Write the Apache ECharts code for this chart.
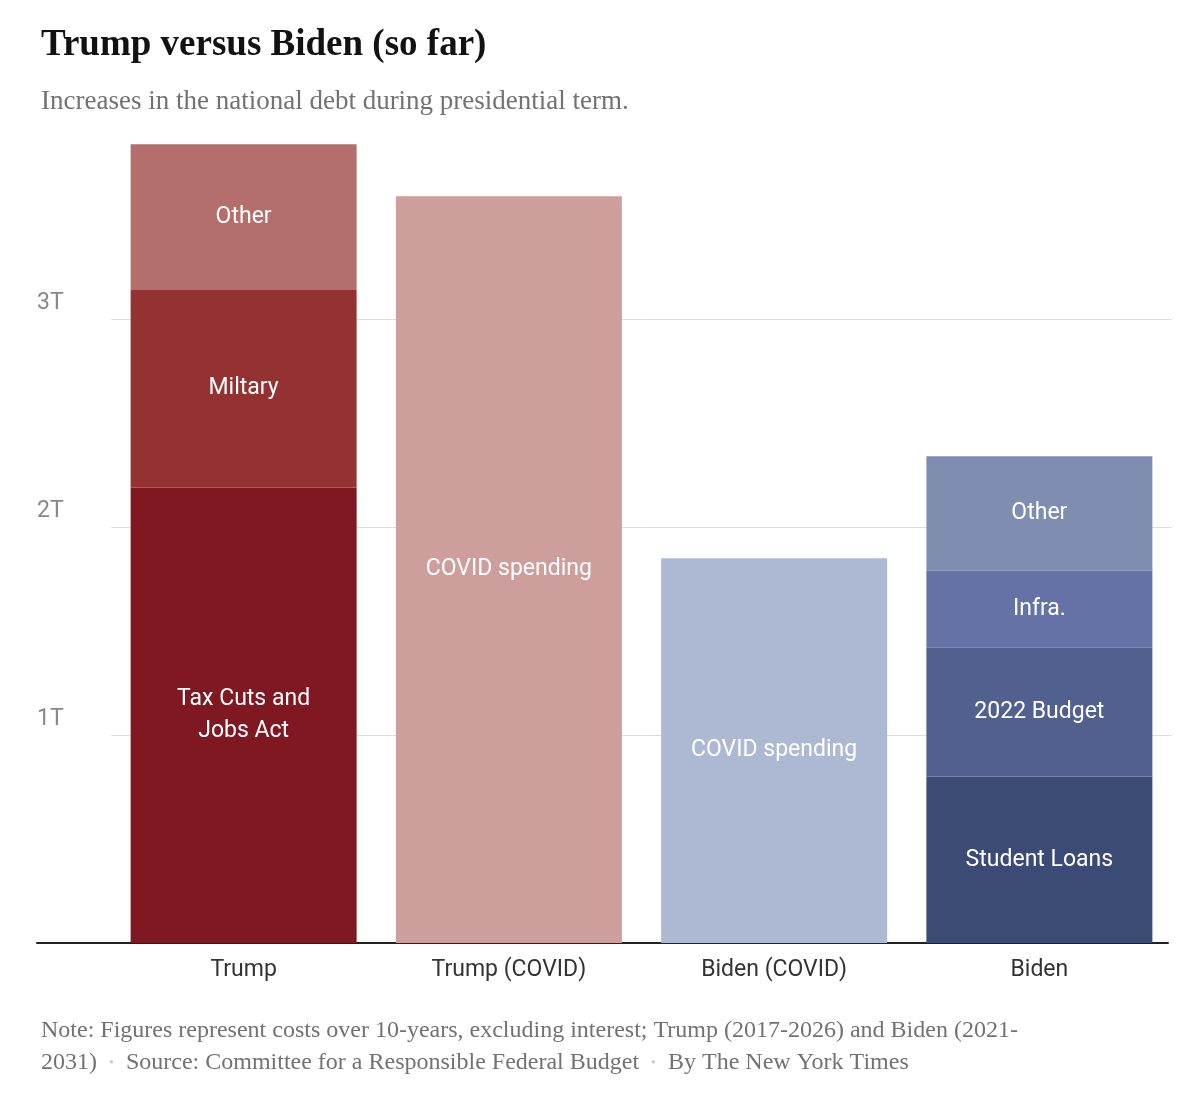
<!DOCTYPE html>
<html><head><meta charset="utf-8">
<script src="https://cdn.jsdelivr.net/npm/echarts@6/dist/echarts.min.js"></script>
<style>html,body{margin:0;padding:0;background:#fff}#c{width:1200px;height:1093px}</style>
</head><body><div id="c"></div>
<script>
const categories = ['Trump', 'Trump (COVID)', 'Biden (COVID)', 'Biden'];
const taxCuts = [2.19, '-', '-', '-'];
const military = [0.95, '-', '-', '-'];
const trumpOther = [0.70, '-', '-', '-'];
const trumpCovid = ['-', 3.59, '-', '-'];
const bidenCovid = ['-', '-', 1.85, '-'];
const studentLoans = ['-', '-', '-', 0.80];
const budget2022 = ['-', '-', '-', 0.62];
const infra = ['-', '-', '-', 0.37];
const bidenOther = ['-', '-', '-', 0.55];
const yTicks = {1: '1T', 2: '2T', 3: '3T'};

const sans = 'Roboto, "Liberation Sans", sans-serif';
const serif = '"Liberation Serif", "DejaVu Serif", serif';
function s(name, data, color, label) {
  return {
    name, type: 'bar', stack: 'a', data, barWidth: 226,
    itemStyle: {color},
    label: {show: true, position: 'inside', color: '#fff', fontFamily: sans, fontSize: 23,
      lineHeight: 32, formatter: label || name},
    emphasis: {disabled: true}
  };
}
const chart = echarts.init(document.getElementById('c'));
chart.setOption({
  animation: false,
  title: [
    {text: 'Trump versus Biden (so far)', left: 36, top: 22,
      textStyle: {fontFamily: serif, fontSize: 37, fontWeight: 'bold', color: '#121212'}},
    {text: 'Increases in the national debt during presidential term.', left: 36, top: 83,
      textStyle: {fontFamily: serif, fontSize: 27, fontWeight: 'normal', color: '#727272'}},
    {text: 'Note: Figures represent costs over 10-years, excluding interest; Trump (2017-2026) and Biden (2021-\n2031)  {d|•}  Source: Committee for a Responsible Federal Budget  {d|•}  By The New York Times',
      left: 36, top: 1010,
      textStyle: {fontFamily: serif, fontSize: 24, fontWeight: 'normal', color: '#727272', lineHeight: 32,
        rich: {d: {color: '#cccccc', fontSize: 14}}}}
  ],
  grid: [
    {left: 111, right: 28, top: 111, bottom: 150},
    {left: 37, right: 32, top: 111, bottom: 150}
  ],
  xAxis: [
    {type: 'category', data: categories, gridIndex: 0,
      axisLine: {show: false}, axisTick: {show: false},
      axisLabel: {fontFamily: sans, fontSize: 23, color: '#333', margin: 16}},
    {type: 'category', data: [''], gridIndex: 1,
      axisLine: {show: true, lineStyle: {color: '#222', width: 2}}, axisTick: {show: false},
      axisLabel: {show: false}}
  ],
  yAxis: [
    {type: 'value', min: 0, max: 4, interval: 1, gridIndex: 0,
      axisLine: {show: false}, axisTick: {show: false},
      splitLine: {show: true, lineStyle: {color: ['transparent', '#dddddd', '#dddddd', '#dddddd', 'transparent']}},
      axisLabel: {formatter: v => yTicks[v] || '', align: 'left', verticalAlign: 'bottom', margin: 74,
        padding: [0, 0, 4, 0], fontFamily: sans, fontSize: 23, color: '#888'}},
    {type: 'value', min: 0, max: 4, gridIndex: 1, show: false}
  ],
  series: [
    s('Tax Cuts and Jobs Act', taxCuts, '#7f1820', 'Tax Cuts and\nJobs Act'),
    s('Miltary', military, '#943131'),
    s('Other', trumpOther, '#b46e6b'),
    s('COVID spending', trumpCovid, '#cd9e9b'),
    s('COVID spending ', bidenCovid, '#adb9d3', 'COVID spending'),
    s('Student Loans', studentLoans, '#3c4a76'),
    s('2022 Budget', budget2022, '#52608f'),
    s('Infra.', infra, '#6472a5'),
    s('Other ', bidenOther, '#7f8db0', 'Other')
  ]
});
</script></body></html>
